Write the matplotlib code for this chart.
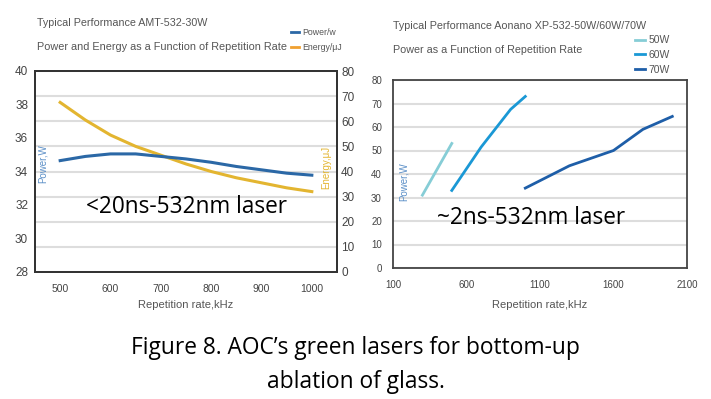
import matplotlib
matplotlib.use("Agg")
import matplotlib.pyplot as plt
from matplotlib.lines import Line2D

# left chart: AMT-532-30W
rate_l = [500, 550, 600, 650, 700, 750, 800, 850, 900, 950, 1000]
power_l = [34.65, 34.9, 35.05, 35.05, 34.9, 34.75, 34.55, 34.3, 34.1, 33.9, 33.78]
energy_l = [67.5, 60.5, 54.5, 50.0, 46.5, 43.0, 40.0, 37.5, 35.5, 33.5, 32.0]

# right chart: Aonano XP-532
rate_50 = [300, 500]
power_50 = [31, 53]
rate_60 = [500, 700, 900, 1000]
power_60 = [33, 51.5, 67.5, 73]
rate_70 = [1000, 1300, 1600, 1800, 2000]
power_70 = [34, 43.5, 50, 59, 64.5]

gray = "#555555"
c_pow = "#2b68a6"
c_en = "#e3b530"
c50, c60, c70 = "#86cdd6", "#1a98d5", "#1e5ea8"
small = "Liberation Sans"
big_font = ["Open Sans", "DejaVu Sans"]

fig = plt.figure(figsize=(7.11, 3.99), dpi=100)

## left chart
ax1 = fig.add_axes([35/711, 1-272/399, 302/711, 201/399])
ax2 = ax1.twinx()
ax1.plot(rate_l, power_l, color=c_pow, lw=2.2, zorder=3)
ax2.plot(rate_l, energy_l, color=c_en, lw=2.2, zorder=3)
ax1.set_xlim(450, 1050)
ax1.set_ylim(28, 40)
ax2.set_ylim(0, 80)
ax1.set_xticks(range(500, 1001, 100))
ax1.set_yticks(range(28, 41, 2))
ax2.set_yticks(range(0, 81, 10))
ax2.yaxis.grid(True, color="#dddddd", lw=1.5)
ax2.set_axisbelow(True)
ax1.set_zorder(ax2.get_zorder() + 1)
ax1.patch.set_visible(False)
for ax in (ax1, ax2):
    ax.tick_params(length=0, pad=5)
    for s in ax.spines.values():
        s.set_color("#333333")
        s.set_linewidth(1.3)
    for lab in ax.get_yticklabels():
        lab.set_fontproperties(small)
        lab.set_fontsize(8.5)
        lab.set_color("#444444")
    for lab in ax.get_xticklabels():
        lab.set_fontproperties(small)
        lab.set_fontsize(7.5)
        lab.set_color("#444444")
ax2.tick_params(axis="y", pad=3)
ax1.tick_params(axis="x", pad=9)
ax1.set_xlabel("Repetition rate,kHz", fontsize=8, color=gray, family=small, labelpad=4)
ax1.text(0.025, 0.54, "Power,W", transform=ax1.transAxes, rotation=90, color="#5b8fc7",
         fontsize=7, va="center", ha="center", family=small)
ax1.text(0.965, 0.52, "Energy,μJ", transform=ax1.transAxes, rotation=90, color=c_en,
         fontsize=7, va="center", ha="center", family=small)
ax1.text(0.5, 0.2935, "<20ns-532nm laser", transform=ax1.transAxes, ha="center", va="baseline",
         fontsize=16.3, family=big_font)
fig.text(37/711, 1-23/399, "Typical Performance AMT-532-30W", fontsize=7.75, color=gray,
         family=small, va="center")
fig.text(37/711, 1-47/399, "Power and Energy as a Function of Repetition Rate", fontsize=7.8,
         color=gray, family=small, va="center")
handles = [Line2D([], [], color=c_pow, lw=2), Line2D([], [], color="#f0a030", lw=2)]
leg = fig.legend(handles, ["Power/w", "Energy/μJ"], loc="upper left",
                 bbox_to_anchor=(283/711, 1-20/399), frameon=False, handlelength=0.9,
                 handletextpad=0.4, labelspacing=0.67, prop={"family": small, "size": 6.3})
for t in leg.get_texts():
    t.set_color(gray)

## right chart
ax3 = fig.add_axes([393/711, 1-268/399, 294/711, 188/399])
ax3.plot(rate_50, power_50, color=c50, lw=2, label="50W")
ax3.plot(rate_60, power_60, color=c60, lw=2, label="60W")
ax3.plot(rate_70, power_70, color=c70, lw=2, label="70W")
ax3.set_xlim(100, 2100)
ax3.set_ylim(0, 80)
ax3.set_xticks(range(100, 2101, 500))
ax3.set_yticks(range(0, 81, 10))
ax3.yaxis.grid(True, color="#dddddd", lw=1.5)
ax3.set_axisbelow(True)
ax3.tick_params(length=0, pad=8)
for s in ax3.spines.values():
    s.set_color("#444444")
    s.set_linewidth(1.3)
for lab in ax3.get_xticklabels() + ax3.get_yticklabels():
    lab.set_fontproperties(small)
    lab.set_fontsize(7)
    lab.set_color("#444444")
ax3.tick_params(axis="x", pad=9)
ax3.set_xlabel("Repetition rate,kHz", fontsize=8, color=gray, family=small, labelpad=7)
ax3.text(0.035, 0.46, "Power,W", transform=ax3.transAxes, rotation=90, color="#5b8fc7",
         fontsize=7, va="center", ha="center", family=small)
ax3.text(0.47, 0.235, "~2ns-532nm laser", transform=ax3.transAxes, ha="center", va="baseline",
         fontsize=16.3, family=big_font)
fig.text(393/711, 1-26/399, "Typical Performance Aonano XP-532-50W/60W/70W", fontsize=7.75,
         color=gray, family=small, va="center")
fig.text(393/711, 1-50/399, "Power as a Function of Repetition Rate", fontsize=7.75,
         color=gray, family=small, va="center")
leg2 = ax3.legend(loc="upper left", bbox_to_anchor=(626/711, 1-26/399), bbox_transform=fig.transFigure,
                  frameon=False, handlelength=0.9, handletextpad=0.4, labelspacing=0.45,
                  prop={"family": small, "size": 7.5})
for t in leg2.get_texts():
    t.set_color(gray)

## caption
fig.text(0.5, 1-354/399, "Figure 8. AOC’s green lasers for bottom-up", ha="center", va="baseline",
         fontsize=16.4, family=big_font)
fig.text(0.5, 1-388/399, "ablation of glass.", ha="center", va="baseline",
         fontsize=16.4, family=big_font)

fig.savefig("out.png", dpi=100)
